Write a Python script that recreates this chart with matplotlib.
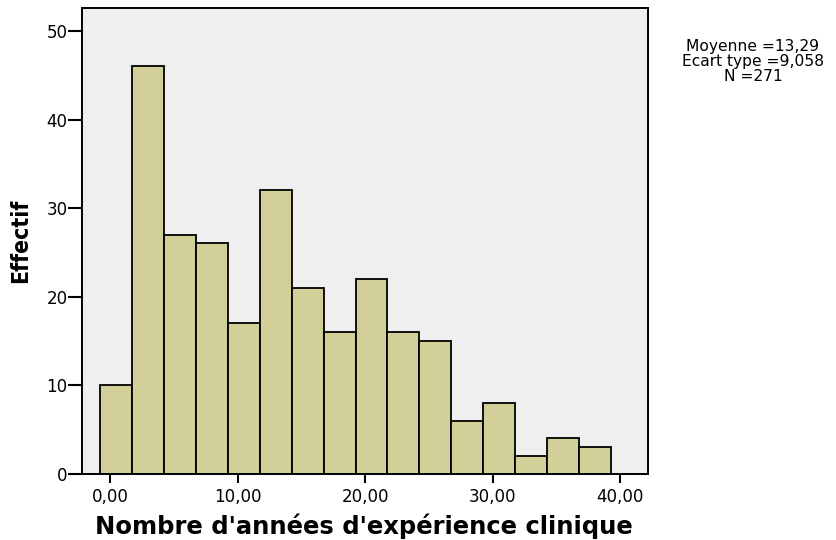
import numpy as np
import matplotlib
matplotlib.use("Agg")
import matplotlib.pyplot as plt

# histogram of years of clinical experience (SPSS style)
counts = [10, 46, 27, 26, 17, 32, 21, 16, 22, 16, 15, 6, 8, 2, 4, 3]
bin_start = -0.75
bin_width = 2.5
xticks = [0, 10, 20, 30, 40]
xtick_labels = ["0,00", "10,00", "20,00", "30,00", "40,00"]
yticks = [0, 10, 20, 30, 40, 50]
stats_lines = ["Moyenne =13,29", "Ecart type =9,058", "N =271"]

bar_color = "#d3cf99"
bg_color = "#efefef"

fig = plt.figure(figsize=(8.36, 5.4), dpi=100)
ax = fig.add_axes([0.0981, 0.1228, 0.6774, 0.8633])
ax.set_facecolor(bg_color)

lefts = bin_start + bin_width * np.arange(len(counts))
ax.bar(lefts, counts, width=bin_width, align="edge", color=bar_color,
       edgecolor="black", linewidth=1.3, zorder=2)

ax.set_xlim(-2.19, 42.19)
ax.set_ylim(0, 52.65)

ax.set_xticks(xticks)
ax.set_xticklabels(xtick_labels)
ax.set_yticks(yticks)
ax.tick_params(axis="x", length=6.5, width=1.5, pad=4, labelsize=12)
ax.tick_params(axis="y", length=10, width=1.5, pad=0.5, labelsize=12)
for s in ax.spines.values():
    s.set_linewidth(1.4)

fig.text(364 / 836, (540 - 534) / 540, "Nombre d'années d'expérience clinique",
         ha="center", va="baseline", fontsize=17.5, fontweight="bold")
fig.text(21 / 836, 1 - 241 / 540, "Effectif", rotation=90, ha="center", va="center",
         fontsize=16.5, fontweight="bold", fontstretch="condensed",
         family="DejaVu Sans")

# stats box, one line per text for tight spacing
for i, line in enumerate(stats_lines):
    fig.text(753 / 836, 1 - (51 + 14.8 * i) / 540, line, ha="center",
             va="baseline", fontsize=11.2)

fig.savefig("out.png", dpi=100)
